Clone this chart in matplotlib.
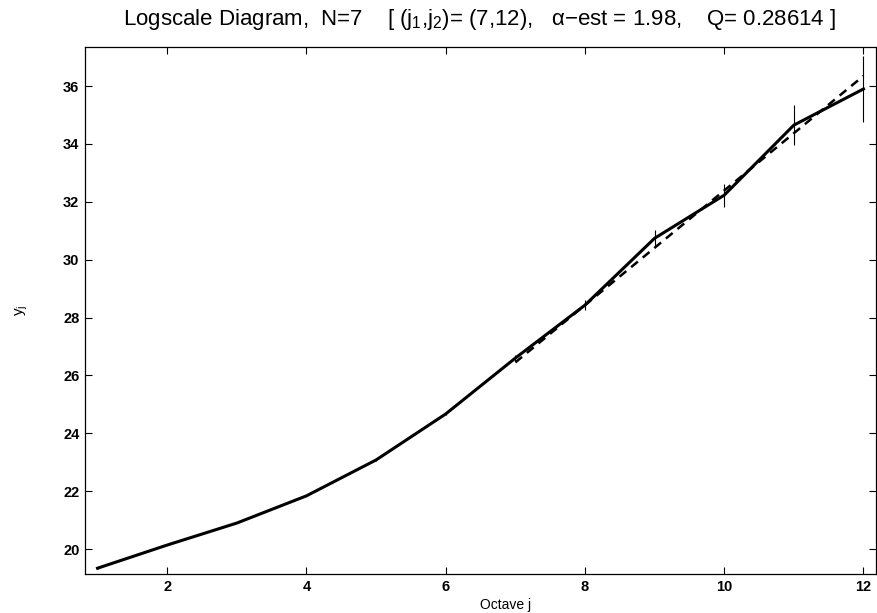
import matplotlib
matplotlib.use("Agg")
import matplotlib.pyplot as plt
import numpy as np

plt.rcParams['font.family'] = ['Liberation Sans', 'DejaVu Sans']
plt.rcParams['mathtext.fontset'] = 'custom'
plt.rcParams['mathtext.rm'] = 'Liberation Sans'
plt.rcParams['mathtext.it'] = 'Liberation Sans'
plt.rcParams['mathtext.bf'] = 'Liberation Sans:bold'

# Data
octave = [1, 2, 3, 4, 5, 6, 7, 8, 9, 10, 11, 12]
yj = [19.34, 20.14, 20.90, 21.84, 23.08, 24.67, 26.60, 28.43, 30.74, 32.23, 34.65, 35.90]
yerr = [0.01, 0.01, 0.01, 0.02, 0.03, 0.04, 0.10, 0.17, 0.28, 0.40, 0.68, 1.14]
fit_j = [7, 12]
fit_y = [26.45, 36.35]
xticks = [2, 4, 6, 8, 10, 12]
yticks = [20, 22, 24, 26, 28, 30, 32, 34, 36]
title = ("Logscale Diagram,  N=7    [ (j$_1$,j$_2$)= (7,12),   \u03b1\u2212est = 1.98,    Q= 0.28614 ]")

fig = plt.figure(figsize=(8.77, 6.13), dpi=100)
ax = fig.add_axes([85/877, 1-574/613, (876-85)/877, (574-47)/613])

ax.errorbar(octave, yj, yerr=yerr, fmt='none', ecolor='black', elinewidth=0.8, capsize=0)
ax.plot(octave, yj, color='black', linewidth=2.2, solid_joinstyle='round')
ax.plot(fit_j, fit_y, color='black', linewidth=1.8, linestyle=(0, (3.5, 2.5)))

ax.set_xlim(0.82, 12.18)
ax.set_ylim(19.14, 37.35)
ax.set_xticks(xticks)
ax.set_yticks(yticks)
ax.tick_params(direction='in', length=5, width=0.8, top=True, right=True,
               labelsize=10.5, pad=4)
for lab in ax.get_xticklabels() + ax.get_yticklabels():
    lab.set_fontweight('bold')
for s in ax.spines.values():
    s.set_linewidth(0.9)

ax.set_xlabel("Octave j", fontsize=10)
ax.xaxis.set_label_coords((506-85)/(876-85), -0.045)
ax.set_ylabel("y$_j$", fontsize=11)
ax.yaxis.set_label_coords(-0.07, 0.5)

fig.text(480/877, 1-20/613, title, ha='center', va='center', fontsize=16)

fig.savefig("out.png", dpi=100)
